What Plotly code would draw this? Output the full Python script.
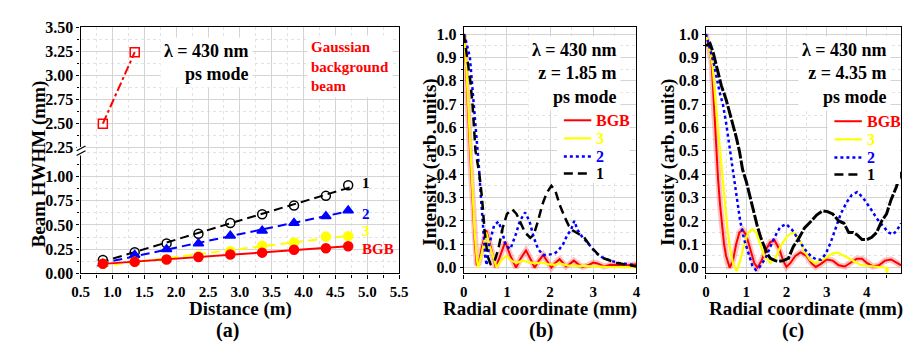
import numpy as np
import plotly.graph_objects as go

W, H = 913, 351
def px(x): return x / W
def py(y): return 1 - y / H

FONT = "Liberation Serif"
RED, YEL, BLU, BLK = "#ff0000", "#ffff00", "#0000ff", "#000000"
BAND = "rgba(255,90,90,0.35)"

# ---------------- Panel (a): Beam HWHM vs distance ----------------
dist = [0.85, 1.35, 1.85, 2.35, 2.85, 3.35, 3.85, 4.35, 4.70]
hwhm_1 = [0.14, 0.22, 0.31, 0.41, 0.52, 0.61, 0.70, 0.80, 0.91]
hwhm_2 = [0.10, 0.19, 0.25, 0.31, 0.39, 0.44, 0.52, 0.59, 0.65]
hwhm_3 = [0.10, 0.12, 0.145, 0.18, 0.23, 0.285, 0.32, 0.38, 0.385]
hwhm_bgb = [0.10, 0.12, 0.145, 0.17, 0.195, 0.215, 0.245, 0.26, 0.28]
gauss_dist = [0.85, 1.35]
gauss_hwhm = [2.50, 3.24]
a_low_ticks = [0.0, 0.25, 0.50, 0.75, 1.00]
a_high_ticks = [2.25, 2.50, 2.75, 3.00, 3.25, 3.50]

# ---------------- Panel (b): profiles at z = 1.85 m ----------------
b_bgb_x = [0, 0.05, 0.1, 0.15, 0.2, 0.25, 0.3, 0.35, 0.42, 0.52, 0.62, 0.74, 0.84, 0.96, 1.08, 1.21, 1.32,
           1.44, 1.55, 1.64, 1.74, 1.84, 1.94, 2.03, 2.12, 2.22, 2.3, 2.37, 2.45, 2.55, 2.65, 2.75, 2.88,
           3.0, 3.1, 3.25, 3.4, 3.6, 3.8, 4.0]
b_bgb_y = [1.0, 0.86, 0.66, 0.46, 0.28, 0.12, 0.01, 0.02, 0.09, 0.16, 0.09, 0.0, 0.05, 0.11, 0.05, 0.0, 0.04,
           0.074, 0.035, 0.0, 0.03, 0.054, 0.025, 0.0, 0.02, 0.036, 0.02, 0.005, 0.015, 0.03, 0.015, 0.003, 0.01,
           0.022, 0.018, 0.005, 0.012, 0.01, 0.01, 0.015]
b_3_x = [0, 0.05, 0.1, 0.15, 0.2, 0.25, 0.3, 0.33, 0.4, 0.52, 0.62, 0.76, 0.86, 0.98, 1.1, 1.22, 1.35, 1.5,
         1.65, 1.8, 1.95, 2.1, 2.22, 2.4, 2.6, 2.8, 3.0, 3.3, 3.6, 4.0]
b_3_y = [1.0, 0.88, 0.7, 0.5, 0.32, 0.15, 0.04, 0.0, 0.05, 0.15, 0.08, 0.0, 0.03, 0.05, 0.03, 0.02, 0.03, 0.025,
         0.018, 0.022, 0.015, 0.012, 0.018, 0.01, 0.008, 0.006, 0.005, 0.003, 0.002, 0.001]
b_2_x = [0, 0.05, 0.14, 0.23, 0.3, 0.35, 0.4, 0.45, 0.5, 0.53, 0.59, 0.7, 0.8, 0.88, 0.97, 1.08, 1.2, 1.3,
         1.42, 1.52, 1.62, 1.72, 1.84, 1.95, 2.1, 2.2, 2.3, 2.4, 2.48, 2.56, 2.64, 2.75, 2.9, 3.05, 3.2, 3.4,
         3.6, 3.8, 4.0]
b_2_y = [1.0, 0.97, 0.9, 0.7, 0.56, 0.43, 0.29, 0.15, 0.04, 0.01, 0.1, 0.18, 0.197, 0.16, 0.094, 0.08, 0.14, 0.2,
         0.236, 0.2, 0.13, 0.08, 0.054, 0.055, 0.06, 0.075, 0.1, 0.14, 0.16, 0.2, 0.16, 0.13, 0.1, 0.065, 0.045,
         0.03, 0.02, 0.015, 0.01]
b_1_x = [0, 0.07, 0.15, 0.2, 0.23, 0.27, 0.36, 0.42, 0.48, 0.55, 0.62, 0.7, 0.8, 0.9, 1.0, 1.12, 1.22, 1.32,
         1.42, 1.54, 1.62, 1.72, 1.82, 1.92, 2.03, 2.12, 2.22, 2.33, 2.43, 2.52, 2.65, 2.79, 2.9, 3.0, 3.12,
         3.24, 3.4, 3.55, 3.7, 3.85, 4.0]
b_1_y = [1.0, 0.9, 0.8, 0.7, 0.6, 0.5, 0.4, 0.3, 0.16, 0.05, 0.015, 0.02, 0.08, 0.17, 0.23, 0.25, 0.23, 0.19,
         0.15, 0.128, 0.14, 0.2, 0.27, 0.32, 0.35, 0.33, 0.27, 0.22, 0.18, 0.16, 0.145, 0.13, 0.1, 0.08, 0.055,
         0.04, 0.028, 0.02, 0.015, 0.01, 0.005]

# ---------------- Panel (c): profiles at z = 4.35 m ----------------
c_bgb_x = [0, 0.07, 0.14, 0.2, 0.26, 0.3, 0.35, 0.4, 0.45, 0.5, 0.55, 0.59, 0.67, 0.75, 0.83, 0.91, 1.0, 1.1,
           1.2, 1.28, 1.38, 1.5, 1.6, 1.71, 1.82, 1.92, 2.0, 2.1, 2.22, 2.35, 2.5, 2.62, 2.73, 2.85, 3.0, 3.15,
           3.3, 3.45, 3.6, 3.75, 3.88, 4.0, 4.15, 4.3, 4.45, 4.6, 4.75, 4.85]
c_bgb_y = [1.0, 0.95, 0.88, 0.68, 0.48, 0.38, 0.27, 0.18, 0.1, 0.05, 0.015, 0.0, 0.03, 0.1, 0.15, 0.162, 0.14,
           0.08, 0.02, 0.0, 0.03, 0.08, 0.11, 0.115, 0.08, 0.03, 0.003, 0.02, 0.05, 0.065, 0.05, 0.02, 0.003,
           0.015, 0.035, 0.03, 0.01, 0.005, 0.02, 0.038, 0.038, 0.02, 0.005, 0.01, 0.03, 0.035, 0.02, 0.01]
c_3_x = [0, 0.05, 0.1, 0.16, 0.26, 0.36, 0.41, 0.47, 0.53, 0.6, 0.67, 0.76, 0.85, 0.95, 1.05, 1.15, 1.25, 1.35,
         1.45, 1.6, 1.72, 1.85, 2.0, 2.1, 2.21, 2.32, 2.45, 2.58, 2.7, 2.85, 3.0, 3.15, 3.27, 3.4, 3.55, 3.7,
         3.85, 4.0, 4.2, 4.4, 4.48, 4.5, 4.52]
c_3_y = [1.0, 0.96, 0.92, 0.87, 0.67, 0.48, 0.4, 0.28, 0.17, 0.08, 0.02, -0.015, 0.03, 0.1, 0.15, 0.165, 0.15,
         0.1, 0.05, 0.02, 0.04, 0.09, 0.13, 0.145, 0.148, 0.12, 0.07, 0.035, 0.02, 0.03, 0.045, 0.06, 0.065,
         0.055, 0.04, 0.025, 0.012, 0.008, 0.004, 0.002, 0.0, -0.03, 0.0]
c_2_x = [0, 0.08, 0.2, 0.34, 0.42, 0.5, 0.6, 0.67, 0.75, 0.85, 0.95, 1.05, 1.15, 1.24, 1.32, 1.4, 1.48, 1.6,
         1.72, 1.85, 2.0, 2.15, 2.29, 2.45, 2.62, 2.75, 2.86, 2.98, 3.1, 3.22, 3.35, 3.5, 3.62, 3.76, 3.9,
         4.08, 4.25, 4.41, 4.55, 4.65, 4.75, 4.85]
c_2_y = [1.0, 0.95, 0.87, 0.75, 0.7, 0.62, 0.5, 0.4, 0.3, 0.2, 0.12, 0.06, 0.01, -0.01, 0.0, 0.02, 0.04, 0.09,
         0.135, 0.175, 0.186, 0.16, 0.12, 0.08, 0.047, 0.035, 0.034, 0.06, 0.108, 0.17, 0.23, 0.28, 0.31,
         0.324, 0.3, 0.256, 0.21, 0.175, 0.15, 0.142, 0.16, 0.19]
c_1_x = [0, 0.1, 0.18, 0.3, 0.38, 0.5, 0.63, 0.75, 0.83, 0.91, 1.0, 1.07, 1.17, 1.28, 1.36, 1.44, 1.52, 1.6,
         1.72, 1.8, 1.92, 2.05, 2.17, 2.29, 2.45, 2.62, 2.75, 2.9, 3.02, 3.15, 3.3, 3.43, 3.55, 3.66, 3.76,
         3.88, 4.0, 4.12, 4.24, 4.37, 4.49, 4.6, 4.73, 4.85]
c_1_y = [0.95, 0.96, 0.92, 0.84, 0.78, 0.72, 0.64, 0.56, 0.5, 0.42, 0.37, 0.32, 0.24, 0.175, 0.13, 0.094, 0.06,
         0.04, 0.03, 0.027, 0.03, 0.04, 0.09, 0.12, 0.17, 0.2, 0.225, 0.243, 0.24, 0.23, 0.2, 0.19, 0.15, 0.15,
         0.14, 0.12, 0.12, 0.13, 0.15, 0.2, 0.23, 0.29, 0.344, 0.41]

legend_labels = ["BGB", "3", "2", "1"]

fig = go.Figure()

# ---- panel (a) traces
xfit = np.array([0.8, 4.75])
for ys, col, dash, sym in [
        (hwhm_1, BLK, "9px,5px", "circle-open"),
        (hwhm_2, BLU, "9px,5px", "triangle-up"),
        (hwhm_3, YEL, "9px,5px", "circle"),
        (hwhm_bgb, RED, "solid", "circle")]:
    k, b0 = np.polyfit(dist, ys, 1)
    fig.add_trace(go.Scatter(x=xfit, y=k * xfit + b0, mode="lines", xaxis="x", yaxis="y",
                             line=dict(color=col, width=2, dash=dash), showlegend=False))
    fig.add_trace(go.Scatter(x=dist, y=ys, mode="markers", xaxis="x", yaxis="y",
                             marker=dict(symbol=sym, size=9, color=col,
                                         line=dict(color=col, width=1.5)), showlegend=False))
fig.add_trace(go.Scatter(x=gauss_dist, y=gauss_hwhm, mode="lines+markers", xaxis="x2", yaxis="y2",
                         line=dict(color=RED, width=2, dash="dashdot"),
                         marker=dict(symbol="square-open", size=9, color=RED, line=dict(width=1.5)),
                         showlegend=False))

# ---- panels (b), (c) traces
STYLES = [dict(color=RED, width=2), dict(color=YEL, width=2.2),
          dict(color=BLU, width=2.5, dash="dot"), dict(color=BLK, width=2.5, dash="9px,5px")]

def add_profiles(xa, ya, d, black_style):
    bx, by, x3, y3, x2, y2, x1, y1 = d
    fig.add_trace(go.Scatter(x=bx, y=by, mode="lines", xaxis=xa, yaxis=ya, line=dict(color=BAND, width=6),
                             showlegend=False, hoverinfo="skip"))
    styles = STYLES[:3] + [black_style]
    for (xs, ys), st, nm in zip([(bx, by), (x3, y3), (x2, y2), (x1, y1)], styles, legend_labels):
        fig.add_trace(go.Scatter(x=xs, y=ys, mode="lines", xaxis=xa, yaxis=ya, line=st, name=nm,
                                 showlegend=False))

add_profiles("x3", "y3", (b_bgb_x, b_bgb_y, b_3_x, b_3_y, b_2_x, b_2_y, b_1_x, b_1_y), STYLES[3])
add_profiles("x4", "y4", (c_bgb_x, c_bgb_y, c_3_x, c_3_y, c_2_x, c_2_y, c_1_x, c_1_y),
             dict(color=BLK, width=3, dash="12px,2px"))

xtickf = dict(family=FONT, size=15, color="black", weight="bold")
ytickf = dict(family=FONT, size=16, color="black", weight="bold")
GRID = "#d4d4d4"
MGRID = "#e2e2e2"

def ax(**kw):
    base = dict(showline=True, linecolor="black", linewidth=1.2, ticks="outside", ticklen=4,
                tickcolor="black", tickfont=xtickf, showgrid=True, gridcolor=GRID, gridwidth=1,
                zeroline=False)
    base.update(kw)
    return base

def yax(**kw):
    d = dict(ticklen=3, tickfont=ytickf, mirror=True)
    d.update(kw)
    return ax(**d)

def mnr(dt, ticks=True, ln=3):
    d = dict(dtick=dt, showgrid=True, gridcolor=MGRID, griddash="dot")
    if ticks:
        d.update(ticks="outside", ticklen=ln, tickcolor="black")
    return d

ybot = [py(279), py(150)]
ytop = [py(150), py(20)]
xa_dom = [px(73), px(398)]
xb_dom = [px(464), px(640)]
xc_dom = [px(711), px(910)]

fig.update_layout(
    width=W, height=H, margin=dict(l=0, r=0, t=0, b=0),
    paper_bgcolor="white", plot_bgcolor="white", showlegend=False,
    font=dict(family=FONT, color="black", weight="bold"),
    xaxis=ax(domain=xa_dom, anchor="y", range=[0.5, 5.5], dtick=0.5, tick0=0.5, tickformat=".1f",
             minor=mnr(0.25)),
    yaxis=yax(domain=ybot, anchor="x", range=[0, 1.265], tickmode="array", tickvals=a_low_ticks,
              ticktext=[f"{v:.2f}" for v in a_low_ticks], minor=mnr(0.125, ln=2)),
    xaxis2=ax(domain=xa_dom, anchor="y2", matches="x", side="top", showticklabels=False, ticks="",
              range=[0.5, 5.5], dtick=0.5, tick0=0.5, minor=mnr(0.25, False)),
    yaxis2=yax(domain=ytop, anchor="x2", range=[2.22, 3.5], tickmode="array", tickvals=a_high_ticks,
               ticktext=[f"{v:.2f}" for v in a_high_ticks], minor=mnr(0.125, ln=2)),
    xaxis3=ax(domain=xb_dom, anchor="y3", range=[0, 4], dtick=1, mirror=True, minor=mnr(0.5)),
    yaxis3=yax(domain=[py(279), py(20)], anchor="x3", range=[-0.025, 1.03], dtick=0.1, tick0=0,
               tickformat=".1f", minor=mnr(0.05, ln=2)),
    xaxis4=ax(domain=xc_dom, anchor="y4", range=[0, 4.85], dtick=1, mirror=True, minor=mnr(0.5)),
    yaxis4=yax(domain=[py(279), py(20)], anchor="x4", range=[-0.025, 1.03], dtick=0.1, tick0=0,
               tickformat=".1f", minor=mnr(0.05, ln=2)),
)

def note(text, x, y, size=19, color="black", **kw):
    d = dict(text=text, x=px(x), y=py(y), xref="paper", yref="paper", showarrow=False,
             xanchor="center", yanchor="middle",
             font=dict(family=FONT, size=size, color=color, weight="bold"))
    d.update(kw)
    fig.add_annotation(**d)

# panel texts
note("λ = 430 nm<br>ps mode", 249, 31, size=18, align="right", xanchor="right", yanchor="top",
     bgcolor="white", borderpad=3)
note("Gaussian<br>background<br>beam", 304, 28, size=15, color=RED, align="left", xanchor="left",
     yanchor="top", bgcolor="white", borderpad=3)
note("λ = 430 nm<br>z = 1.85 m<br>ps mode", 624, 29, size=18, align="right", xanchor="right",
     yanchor="top", bgcolor="white", borderpad=3)
note("λ = 430 nm<br>z = 4.35 m<br>ps mode", 900, 29, size=18, align="right", xanchor="right",
     yanchor="top", bgcolor="white", borderpad=3)

# manual legends for (b) and (c)
LEG_COLORS = [RED, YEL, BLU, BLK]
for (x0, rows) in [(566, [118, 137, 156, 174]), (842, [119, 138, 157, 175])]:
    fig.add_shape(type="rect", xref="paper", yref="paper", x0=px(x0 - 7), x1=px(x0 + 67),
                  y0=py(rows[-1] + 10), y1=py(rows[0] - 10), fillcolor="white", line=dict(width=0))
    for yy, st, lab, col in zip(rows, STYLES, legend_labels, LEG_COLORS):
        fig.add_shape(type="line", xref="paper", yref="paper", x0=px(x0), x1=px(x0 + 28),
                      y0=py(yy), y1=py(yy),
                      line=dict(color=st["color"], width=st["width"], dash=st.get("dash", "solid")))
        note(lab, x0 + 31, yy, size=16, color=col, xanchor="left")

# series labels in (a)
for txt, col, yv in [("1", BLK, 184), ("2", BLU, 217), ("3", YEL, 234), ("BGB", RED, 253)]:
    note(txt, 358, yv, size=15, color=col, xanchor="left")

# axis titles
note("Distance (m)", 236, 316, size=19)
note("Radial coordinate (mm)", 542, 316, size=19)
note("Radial coordinate (mm)", 813, 316, size=19)
note("Beam HWHM (mm)", 31, 164, size=19, textangle=-90)
note("Intensity (arb. units)", 430, 162, size=19, textangle=-90)
note("Intensity (arb. units)", 672, 162, size=19, textangle=-90)
# panel labels
note("(a)", 223, 339, size=20)
note("(b)", 543, 339, size=20)
note("(c)", 800, 339, size=20)

# axis break marker on panel (a)
fig.add_shape(type="rect", xref="paper", yref="paper", x0=px(69), x1=px(78), y0=py(155), y1=py(146),
              fillcolor="white", line=dict(width=0))
for dy in (0, 5):
    fig.add_shape(type="line", xref="paper", yref="paper", x0=px(69), x1=px(78),
                  y0=py(150 + dy), y1=py(145 + dy), line=dict(color="black", width=1.2))

fig.write_html("out.html")
